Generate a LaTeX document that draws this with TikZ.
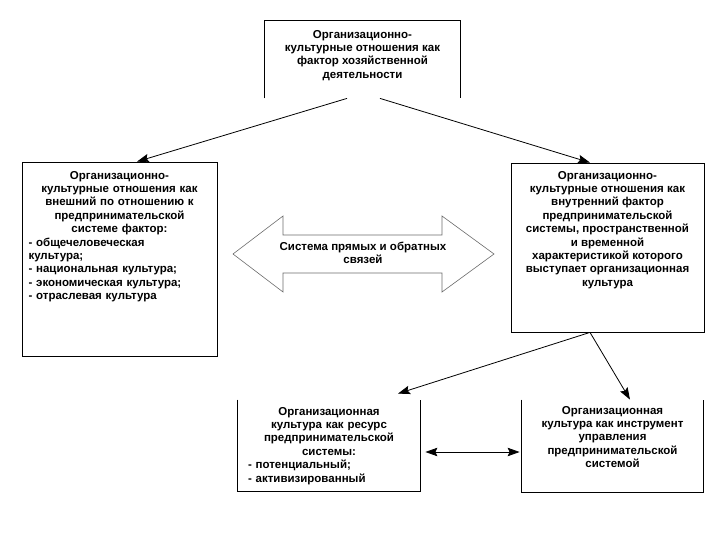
\documentclass[tikz,border=0pt]{standalone}
\usepackage{fontspec}
\setmainfont{Liberation Sans}
\usetikzlibrary{positioning, arrows.meta}
\usepackage{xcolor}
\newcommand{\OrgFactor}{Организационно-\\культурные отношения как\\фактор хозяйственной\\деятельности}
\newcommand{\OrgOuter}{\centering Организационно-\\культурные отношения как\\внешний по отношению к\\предпринимательской\\системе фактор:\par
  \raggedright - общечеловеческая\\культура;\\- национальная культура;\\- экономическая культура;\\- отраслевая культура}
\newcommand{\OrgInner}{Организационно-\\культурные отношения как\\внутренний фактор\\предпринимательской\\системы, пространственной\\и временной\\характеристикой которого\\выступает организационная\\культура}
\newcommand{\CultResource}{\centering Организационная\\культура как ресурс\\предпринимательской\\системы:\par
  \raggedright - потенциальный;\\- активизированный}
\newcommand{\CultTool}{Организационная\\культура как инструмент\\управления\\предпринимательской\\системой}
\newcommand{\LinksSys}{Система прямых и обратных\\связей}
\definecolor{outlinegray}{rgb}{0.42,0.42,0.42}

\begin{document}
\begin{tikzpicture}[x=1pt,y=-1pt,line width=0.8pt,>={Stealth[length=12pt,width=8.5pt,inset=2pt]},
  box/.style={inner sep=0pt},
  txt/.style={inner sep=0pt,font=\fontsize{11.5}{13.4}\selectfont\bfseries}]
  \useasboundingbox (0,0) rectangle (720,540);

  % boxes
  \node[box, minimum width=195pt, minimum height=77pt]          (Factor) at (362.5,59.5) {};
  \node[box, draw, minimum width=195pt, minimum height=194pt]   (Outer)  at (119.5,259) {};
  \node[box, draw, minimum width=193pt, minimum height=169pt]   (Inner)  at (607.5,247.5) {};
  \node[box, minimum width=182pt, minimum height=91pt]          (Res)    at (329,445.5) {};
  \node[box, minimum width=181pt, minimum height=92pt]          (Tool)   at (612.5,446) {};

  \draw (Factor.south west) -- (Factor.north west) -- (Factor.north east) -- (Factor.south east);
  \draw (Res.north west) -- (Res.south west) -- (Res.south east) -- (Res.north east);
  \draw (Tool.north west) -- (Tool.south west) -- (Tool.south east) -- (Tool.north east);

  % texts
  \node[txt, align=center, below=9pt of Factor.north]          (FactorTxt) {\OrgFactor};
  \node[txt, text width=182pt, below=9pt of Outer.north]       (OuterTxt)  {\OrgOuter};
  \node[txt, align=center, below=8pt of Inner.north]           (InnerTxt)  {\OrgInner};
  \node[txt, text width=162pt, below=7pt of Res.north]         (ResTxt)    {\CultResource};
  \node[txt, align=center, below=6pt of Tool.north]            (ToolTxt)   {\CultTool};

  % system of links
  \draw[outlinegray, line width=0.6pt] (233,254) -- (283,216) -- (283,235) -- (442,235) -- (442,216)
    -- (494,254) -- (442,292) -- (442,273) -- (283,273) -- (283,292) -- cycle;
  \node[txt, align=center] (Links) at (363,253) {\LinksSys};

  % connectors
  \draw[->] ([xshift=-15.5pt]Factor.south) -- ([xshift=17.5pt]Outer.north);
  \draw[->] ([xshift=17.5pt]Factor.south)  -- ([xshift=-17.5pt]Inner.north);
  \draw[->] ([xshift=-17.5pt]Inner.south)  -- ([xshift=69pt,yshift=6pt]Res.north);
  \draw[->] ([xshift=-17.5pt]Inner.south)  -- ([xshift=17.5pt]Tool.north);
  \draw[<->, shorten <=5pt, shorten >=2pt] ([yshift=-6.5pt]Res.east) -- ([yshift=-6pt]Tool.west);
\end{tikzpicture}
\end{document}
